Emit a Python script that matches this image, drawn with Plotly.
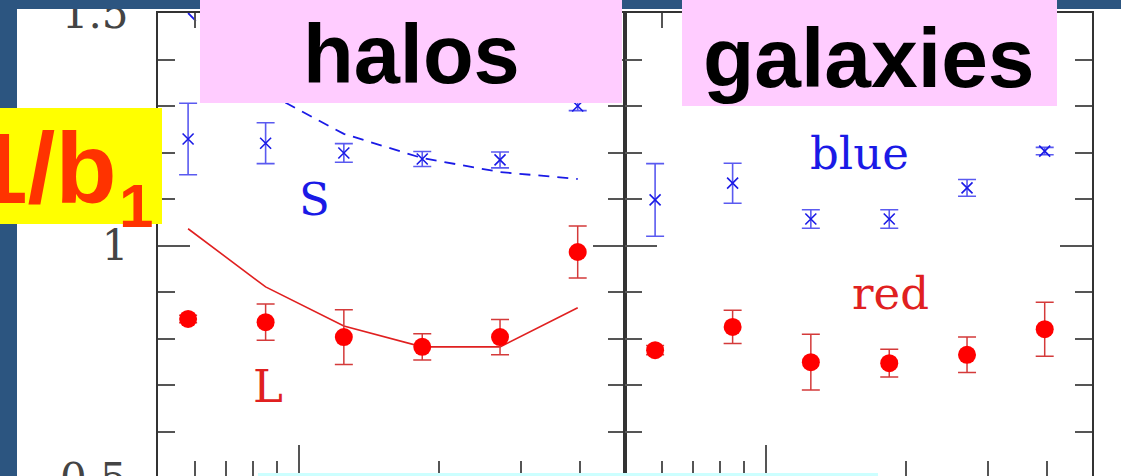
import math
import plotly.graph_objects as go

# ---------------- data ----------------
mass_bins = [0.58, 0.85, 1.25, 1.84, 2.70, 3.96]          # log-spaced bins (arbitrary units)

halo_S = [1.229, 1.220, 1.199, 1.186, 1.184, 1.300]
halo_S_err = [0.077, 0.044, 0.020, 0.016, 0.017, 0.010]
halo_S_model = [1.50, 1.33, 1.24, 1.188, 1.158, 1.143]

halo_L = [0.842, 0.835, 0.803, 0.782, 0.803, 0.986]
halo_L_err = [0.008, 0.039, 0.059, 0.028, 0.038, 0.056]
halo_L_model = [1.036, 0.911, 0.827, 0.782, 0.782, 0.866]

gal_blue = [1.098, 1.134, 1.057, 1.057, 1.124, 1.203]
gal_blue_err = [0.078, 0.043, 0.020, 0.020, 0.018, 0.008]

gal_red = [0.775, 0.825, 0.749, 0.747, 0.765, 0.820]
gal_red_err = [0.010, 0.036, 0.060, 0.030, 0.038, 0.058]

y_tick_vals = [0.5, 1.0, 1.5]
y_tick_text = ["0.5", "1", "1.5"]
x_major_ticks = [1]
x_minor_ticks = [0.6, 0.7, 0.8, 0.9, 2, 3, 4]

# ---------------- styling ----------------
W, H = 1121, 476
PL, PR, PT, PB = 158, 1092, 13, 476
Y_TOP = 1.5
Y_BOT = 1.5 - (PB - PT) / 465.0   # plot bottom sits slightly above 0.5
XR = [math.log10(0.5), math.log10(5)]

RED = "#ff0000"
RED_ERR = "#d43a3a"
BLUE = "#1a1ae6"
BLUE_ERR = "#5a5af0"
SLIDE = "#2c5580"
AX = "#333333"
TK = "#555555"


def px(xp):
    return (xp - PL) / (PR - PL)


def py(yp):
    return (PB - yp) / (PB - PT)


fig = go.Figure()

# halos panel
fig.add_trace(go.Scatter(x=mass_bins, y=halo_S_model, mode="lines",
                         line=dict(color=BLUE, width=1.8, dash="11px,8px"),
                         xaxis="x", yaxis="y"))
fig.add_trace(go.Scatter(x=mass_bins, y=halo_L_model, mode="lines",
                         line=dict(color="#e02020", width=1.6),
                         xaxis="x", yaxis="y"))
fig.add_trace(go.Scatter(x=mass_bins, y=halo_S, mode="markers",
                         marker=dict(symbol="x-thin", size=11, color=BLUE,
                                     line=dict(color=BLUE, width=1.6)),
                         error_y=dict(type="data", array=halo_S_err, color=BLUE_ERR,
                                      thickness=1.6, width=9),
                         xaxis="x", yaxis="y"))
fig.add_trace(go.Scatter(x=mass_bins, y=halo_L, mode="markers",
                         marker=dict(symbol="circle", size=18, color=RED),
                         error_y=dict(type="data", array=halo_L_err, color=RED_ERR,
                                      thickness=1.5, width=9),
                         xaxis="x", yaxis="y"))

# galaxies panel
fig.add_trace(go.Scatter(x=mass_bins, y=gal_blue, mode="markers",
                         marker=dict(symbol="x-thin", size=11, color=BLUE,
                                     line=dict(color=BLUE, width=1.6)),
                         error_y=dict(type="data", array=gal_blue_err, color=BLUE_ERR,
                                      thickness=1.6, width=9),
                         xaxis="x2", yaxis="y2"))
fig.add_trace(go.Scatter(x=mass_bins, y=gal_red, mode="markers",
                         marker=dict(symbol="circle", size=18, color=RED),
                         error_y=dict(type="data", array=gal_red_err, color=RED_ERR,
                                      thickness=1.5, width=9),
                         xaxis="x2", yaxis="y2"))

xax = dict(type="log", range=XR, showgrid=False, zeroline=False,
           showline=True, linecolor=AX, linewidth=2, mirror="ticks",
           ticks="inside", tickmode="array", tickvals=x_major_ticks, ticklen=31,
           tickwidth=2, tickcolor=TK, showticklabels=False,
           minor=dict(tickmode="array", tickvals=x_minor_ticks, ticks="inside",
                      ticklen=15, tickwidth=2, tickcolor=TK),
           fixedrange=True)
yax = dict(range=[Y_BOT, Y_TOP], showgrid=False, zeroline=False,
           showline=True, linecolor=AX, linewidth=2, mirror="ticks",
           ticks="inside", tickmode="array", tickvals=y_tick_vals, ticktext=y_tick_text,
           ticklen=32, tickwidth=2, tickcolor=TK,
           minor=dict(dtick=0.1, tick0=0.5, ticks="inside", ticklen=17,
                      tickwidth=2, tickcolor=TK),
           fixedrange=True)

fig.update_layout(
    width=W, height=H,
    margin=dict(l=PL, r=W - PR, t=PT, b=H - PB, autoexpand=False),
    paper_bgcolor="white", plot_bgcolor="white",
    showlegend=False, hovermode=False,
    xaxis=dict(xax, domain=[0, 0.5], anchor="y"),
    xaxis2=dict(xax, domain=[0.5, 1], anchor="y2"),
    yaxis=dict(yax, anchor="x", showticklabels=True, ticklabelstandoff=19,
               ticklabeloverflow="allow",
               tickfont=dict(family="DejaVu Serif", size=42, color="#444444")),
    yaxis2=dict(yax, anchor="x2", matches="y", showticklabels=False),
)

# slide decorations (boxes)
shapes = [
    dict(x0=px(0), x1=px(17), y0=py(476), y1=py(0), fillcolor=SLIDE),
    dict(x0=px(0), x1=px(1121), y0=py(9), y1=py(0), fillcolor=SLIDE),
    dict(x0=px(0), x1=px(162), y0=py(224), y1=py(108), fillcolor="#ffff00"),
    dict(x0=px(200), x1=px(622), y0=py(103), y1=py(0), fillcolor="#ffccff"),
    dict(x0=px(682), x1=px(1057), y0=py(106), y1=py(0), fillcolor="#ffccff"),
    dict(x0=px(258), x1=px(878), y0=py(476), y1=py(473), fillcolor="#ccffff"),
]
for s in shapes:
    fig.add_shape(type="rect", xref="paper", yref="paper", layer="above",
                  line=dict(width=0), **s)

ann = []
# bottom tick label (0.5) lies just below the visible plot area
ann.append(dict(text=y_tick_text[0], xref="paper", yref="paper",
                x=px(129), y=(y_tick_vals[0] - Y_BOT) / (Y_TOP - Y_BOT),
                xanchor="right", yanchor="middle", showarrow=False,
                font=dict(family="DejaVu Serif", size=42, color="#444444")))
# in-panel labels
serif = "DejaVu Serif"
ann.append(dict(text="S", xref="x", yref="y", x=math.log10(1.08), y=1.100,
                xanchor="center", yanchor="middle",
                showarrow=False, font=dict(family=serif, size=45, color=BLUE)))
ann.append(dict(text="L", xref="x", yref="y", x=math.log10(0.86), y=0.696,
                xanchor="center", yanchor="middle",
                showarrow=False, font=dict(family=serif, size=45, color="#e02020")))
ann.append(dict(text="blue", xref="x2", yref="y2", x=math.log10(1.59), y=1.197,
                xanchor="center", yanchor="middle",
                showarrow=False, font=dict(family=serif, size=45, color=BLUE)))
ann.append(dict(text="red", xref="x2", yref="y2", x=math.log10(1.855), y=0.897,
                xanchor="center", yanchor="middle",
                showarrow=False, font=dict(family=serif, size=45, color="#e02020")))
# slide titles
bold = dict(family="Liberation Sans, Arial", weight="bold")
ann.append(dict(text="halos", xref="paper", yref="paper", x=px(411), y=py(55),
                xanchor="center", yanchor="middle",
                showarrow=False, font=dict(bold, size=83, color="black")))
ann.append(dict(text="galaxies", xref="paper", yref="paper", x=px(869), y=py(58),
                xanchor="center", yanchor="middle",
                showarrow=False, font=dict(bold, size=84, color="black")))
ann.append(dict(text="1/b", xref="paper", yref="paper", x=px(118), y=py(168),
                xanchor="right", yanchor="middle", showarrow=False,
                font=dict(bold, size=100, color="#ff3300")))
ann.append(dict(text="1", xref="paper", yref="paper", x=px(136), y=py(205),
                xanchor="center", yanchor="middle", showarrow=False,
                font=dict(bold, size=62, color="#ff3300")))
for a in ann:
    fig.add_annotation(**a)

fig.write_html("out.html", config={"displayModeBar": False},
               post_script="document.body.style.margin='0';document.body.style.overflow='hidden';")
